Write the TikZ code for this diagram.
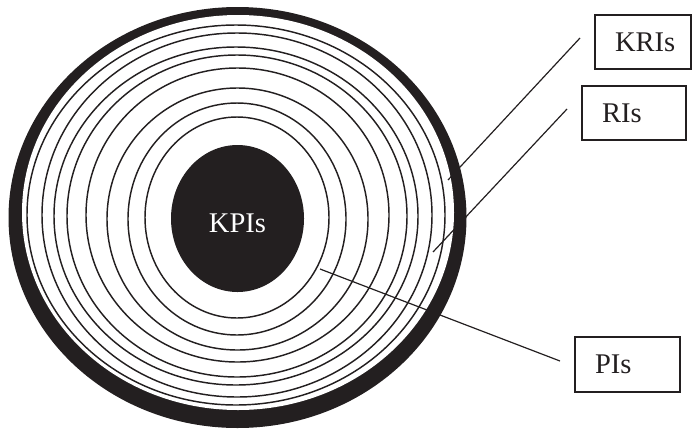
\documentclass[tikz,border=0pt]{standalone}
\usepackage{fontspec}
\setmainfont{Liberation Serif}
\definecolor{ink}{RGB}{35,31,32}
\begin{document}
\begin{tikzpicture}[x=1pt,y=-1pt,
  ring/.style={draw=ink, line width=1.45pt},
  conn/.style={draw=ink, line width=1.2pt},
  lblbox/.style={draw=ink, line width=1.3pt, align=left, inner xsep=20pt, inner ysep=0pt,
    font=\fontsize{28.5}{30}\selectfont, text=ink},
  kpitext/.style={font=\fontsize{28.5}{30}\selectfont, text=white, inner sep=0pt}]
\useasboundingbox (0,0) rectangle (692,429);
% thick outer band
\fill[ink] (237.5,217.5) ellipse [x radius=229pt, y radius=210.5pt];
\fill[white] (238,212.5) ellipse [x radius=216pt, y radius=197.5pt];
% thin rings
\draw[ring] (236,215) ellipse [x radius=209pt, y radius=190pt];
\draw[ring] (237,215) ellipse [x radius=195pt, y radius=182pt];
\draw[ring] (236,216) ellipse [x radius=182pt, y radius=169pt];
\draw[ring] (237,216) ellipse [x radius=170pt, y radius=161pt];
\draw[ring] (237.5,215) ellipse [x radius=151.5pt, y radius=147pt];
\draw[ring] (237.5,219) ellipse [x radius=130.5pt, y radius=131pt];
\draw[ring] (237,219) ellipse [x radius=109pt, y radius=116pt];
\draw[ring] (237,217.5) ellipse [x radius=92pt, y radius=100.5pt];
% KPI core
\fill[ink] (237.5,218.5) ellipse [x radius=66.5pt, y radius=73.5pt];
\node[kpitext, anchor=base] (kpi) at (237.5,232.7) {KPIs};
% label boxes
\node[lblbox, text width=56pt, minimum height=54pt] (kri) at (643,42) {KRIs};
\node[lblbox, text width=64pt, minimum height=54pt] (ri) at (634,113) {RIs};
\node[lblbox, text width=65pt, minimum height=55pt] (pi) at (627.5,364.5) {PIs};
% connector ends
\coordinate (kris) at (580,38);
\coordinate (krie) at (448,180);
\coordinate (ris) at (567,109);
\coordinate (rie) at (433,252);
\coordinate (pis) at (560,361);
\coordinate (pie) at (320,269);
\draw[conn] (kris) -- (krie);
\draw[conn] (ris) -- (rie);
\draw[conn] (pis) -- (pie);
\end{tikzpicture}
\end{document}
